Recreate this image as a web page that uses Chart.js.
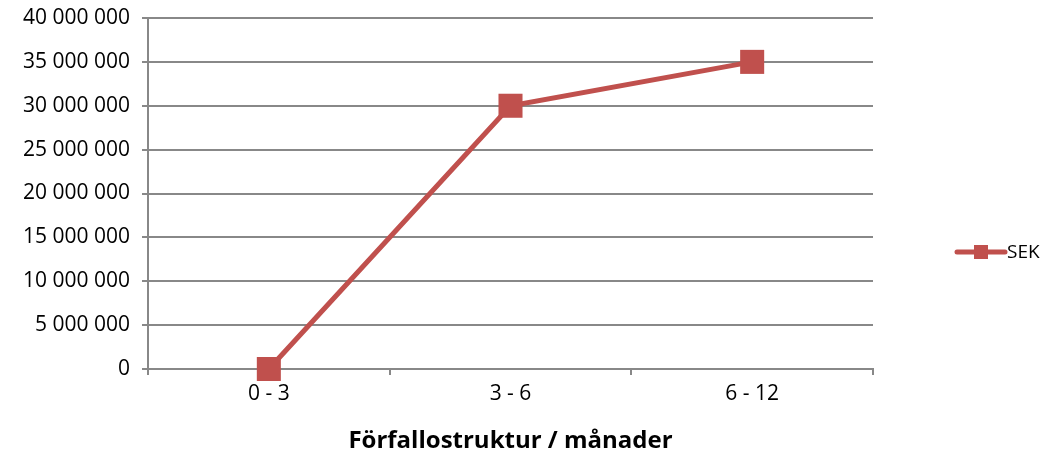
<!DOCTYPE html>
<html>
<head>
<meta charset="utf-8">
<script src="https://cdn.jsdelivr.net/npm/chart.js@4"></script>
<style>
  html, body { margin: 0; padding: 0; background: #fff; }
  #wrap { width: 1053px; height: 472px; }
</style>
</head>
<body>
<div id="wrap"><canvas id="chart" width="1053" height="472"></canvas></div>
<script>
const categories = ["0 - 3", "3 - 6", "6 - 12"];
const sekValues = [0, 30000000, 35000000];
const seriesName = "SEK";
const xTitle = "Förfallostruktur / månader";

const lineColor = "#C0504D";
const gridColor = "#888888";
const fontFamily = "'Open Sans', 'Noto Sans', sans-serif";

// legend on the right: short line with a square on it, then the label
const sideLegend = {
  id: "sideLegend",
  afterDraw(chart) {
    const ctx = chart.ctx;
    const y = 252;
    ctx.save();
    ctx.strokeStyle = lineColor;
    ctx.lineWidth = 5;
    ctx.lineCap = "round";
    ctx.beginPath();
    ctx.moveTo(957, y);
    ctx.lineTo(1005, y);
    ctx.stroke();
    ctx.fillStyle = lineColor;
    ctx.fillRect(974, y - 7, 14, 14);
    ctx.fillStyle = "#000";
    ctx.font = "19px " + fontFamily;
    ctx.textBaseline = "middle";
    ctx.fillText(seriesName, 1007, y + 1);
    ctx.restore();
  }
};

new Chart("chart", {
  type: "line",
  data: {
    labels: categories,
    datasets: [{
      label: seriesName,
      data: sekValues,
      borderColor: lineColor,
      backgroundColor: lineColor,
      borderWidth: 5,
      fill: false,
      tension: 0,
      clip: false,
      pointStyle: "rect",
      pointRadius: 17,
      pointHoverRadius: 17,
      pointBorderWidth: 0
    }]
  },
  options: {
    responsive: false,
    animation: false,
    layout: { padding: { top: 18, right: 180, left: 0, bottom: 0 } },
    plugins: {
      legend: { display: false },
      tooltip: { enabled: false }
    },
    scales: {
      x: {
        offset: true,
        grid: {
          offset: true,
          drawOnChartArea: false,
          drawTicks: true,
          tickLength: 6,
          color: gridColor,
          lineWidth: 2
        },
        border: { color: gridColor, width: 2 },
        ticks: {
          color: "#000",
          padding: 6,
          font: { family: fontFamily, size: 21 }
        },
        title: {
          display: true,
          text: xTitle,
          color: "#000",
          padding: { top: 6, bottom: 16 },
          font: { family: fontFamily, size: 24, weight: "bold" }
        },
        afterFit(scale) {
          scale.height = 103;
          scale.paddingLeft = 0;
          scale.paddingRight = 0;
        }
      },
      y: {
        min: 0,
        max: 40000000,
        ticks: {
          stepSize: 5000000,
          color: "#000",
          padding: 12,
          font: { family: fontFamily, size: 21 },
          callback: v => v.toString().replace(/\B(?=(\d{3})+(?!\d))/g, " ")
        },
        grid: {
          color: gridColor,
          lineWidth: 2,
          tickLength: 6
        },
        border: { color: gridColor, width: 2 },
        afterFit(scale) {
          scale.width = 148;
          scale.paddingTop = 0;
          scale.paddingBottom = 0;
        }
      }
    }
  },
  plugins: [sideLegend]
});
</script>
</body>
</html>
